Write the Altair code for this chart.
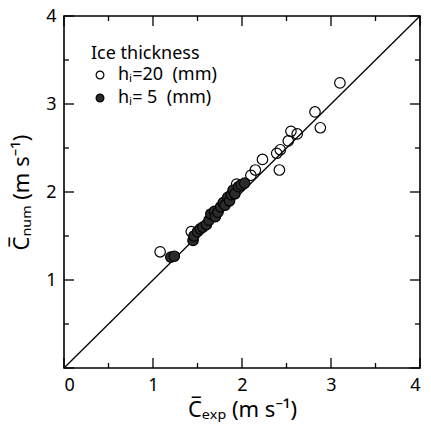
import altair as alt
import pandas as pd

# open circles: h_i = 20 mm
open_x = [1.08, 1.43, 1.94, 2.10, 2.15, 2.23, 2.39, 2.43, 2.42, 2.52, 2.55, 2.62, 2.82, 2.88, 3.10]
open_y = [1.32, 1.55, 2.09, 2.19, 2.25, 2.37, 2.44, 2.48, 2.25, 2.58, 2.69, 2.66, 2.91, 2.73, 3.24]
# filled circles: h_i = 5 mm
fill_x = [1.20, 1.24, 1.45, 1.46, 1.50, 1.53, 1.56, 1.60, 1.63, 1.65, 1.69, 1.70, 1.73, 1.76,
          1.79, 1.81, 1.84, 1.86, 1.88, 1.90, 1.92, 1.96, 1.99, 2.03]
fill_y = [1.26, 1.27, 1.45, 1.50, 1.55, 1.58, 1.60, 1.63, 1.68, 1.75, 1.78, 1.72, 1.77, 1.83,
          1.88, 1.85, 1.94, 1.90, 1.97, 2.02, 1.98, 2.06, 2.08, 2.10]
line_vals = [0, 4]
major_ticks = [0, 1, 2, 3, 4]
minor_ticks = [0.5, 1.5, 2.5, 3.5]

lab20 = "h\u1d62=20\u00a0\u00a0(mm)"
lab5 = "h\u1d62=\u00a05\u00a0\u00a0(mm)"

pts = pd.DataFrame({
    "x": open_x + fill_x,
    "y": open_y + fill_y,
    "g": [lab20] * len(open_x) + [lab5] * len(fill_x),
})
line_df = pd.DataFrame({"x": line_vals, "y": line_vals})
major_df = pd.DataFrame({"v": major_ticks})
minor_df = pd.DataFrame({"v": minor_ticks})

FONT = "Noto Sans"
W, H = 356, 352
sc = alt.Scale(domain=[0, 4], nice=False, zero=False)

xt = "C\u0305\u2091\u2093\u209a (m s\u207b\u00b9)"
yt = "C\u0305\u2099\u1d64\u2098 (m s\u207b\u00b9)"

points = alt.Chart(pts).mark_point(filled=True, stroke="black", strokeWidth=1.2, size=110, shape="circle", opacity=1).encode(
    x=alt.X("x:Q", scale=sc, axis=alt.Axis(orient="bottom", values=major_ticks, ticks=False, tickSize=0,
                                            domain=False, grid=False, labelPadding=8, labelFontSize=18,
                                            labelFont=FONT, labelColor="black", labelAngle=0,
                                            title=xt, titleFont=FONT, titleFontSize=22, titleFontWeight="normal",
                                            titleColor="black", titlePadding=5)),
    y=alt.Y("y:Q", scale=sc, axis=alt.Axis(orient="left", values=major_ticks, ticks=False, tickSize=0,
                                            domain=False, grid=False, labelPadding=8, labelFontSize=18,
                                            labelFont=FONT, labelColor="black",
                                            labelExpr="datum.value == 0 ? '' : datum.label",
                                            title=yt, titleFont=FONT, titleFontSize=22, titleFontWeight="normal",
                                            titleColor="black", titlePadding=12)),
    fill=alt.Fill("g:N", scale=alt.Scale(domain=[lab20, lab5], range=["transparent", "#2b2b2b"]),
                  legend=alt.Legend(orient="none", legendX=27, legendY=29, title="Ice thickness",
                                    titleFont=FONT, titleFontSize=18, titleFontWeight="normal", titleColor="black",
                                    labelFont=FONT, labelFontSize=18, labelColor="black",
                                    symbolSize=60, symbolStrokeColor="black", symbolStrokeWidth=1.2,
                                    symbolType="circle", labelOffset=9, rowPadding=5, titlePadding=3, padding=0)),
)

line = alt.Chart(line_df).mark_line(color="black", strokeWidth=1.3).encode(
    x=alt.X("x:Q", scale=sc, axis=None),
    y=alt.Y("y:Q", scale=sc, axis=None),
)

def xticks(df, length, yc):
    return alt.Chart(df).mark_tick(orient="vertical", size=length, thickness=1.3, color="black", opacity=1).encode(
        x=alt.X("v:Q", scale=sc, axis=None), y=alt.value(yc))

def yticks(df, length, xc):
    return alt.Chart(df).mark_tick(orient="horizontal", size=length, thickness=1.3, color="black", opacity=1).encode(
        y=alt.Y("v:Q", scale=sc, axis=None), x=alt.value(xc))

tick_layers = [
    xticks(major_df, 10, H - 5), xticks(minor_df, 5, H - 2.5),
    xticks(major_df, 10, 5), xticks(minor_df, 5, 2.5),
    yticks(major_df, 10, 5), yticks(minor_df, 5, 2.5),
    yticks(major_df, 10, W - 5), yticks(minor_df, 5, W - 2.5),
]

chart = alt.layer(line, *tick_layers, points).resolve_axis(x="independent", y="independent").properties(
    width=W, height=H,
    padding={"left": 10, "top": 7, "right": 5, "bottom": 5},
    background="white",
).configure_view(stroke="black", strokeWidth=1.6)

chart.save("out.html", embed_options={"renderer": "svg", "actions": False})
